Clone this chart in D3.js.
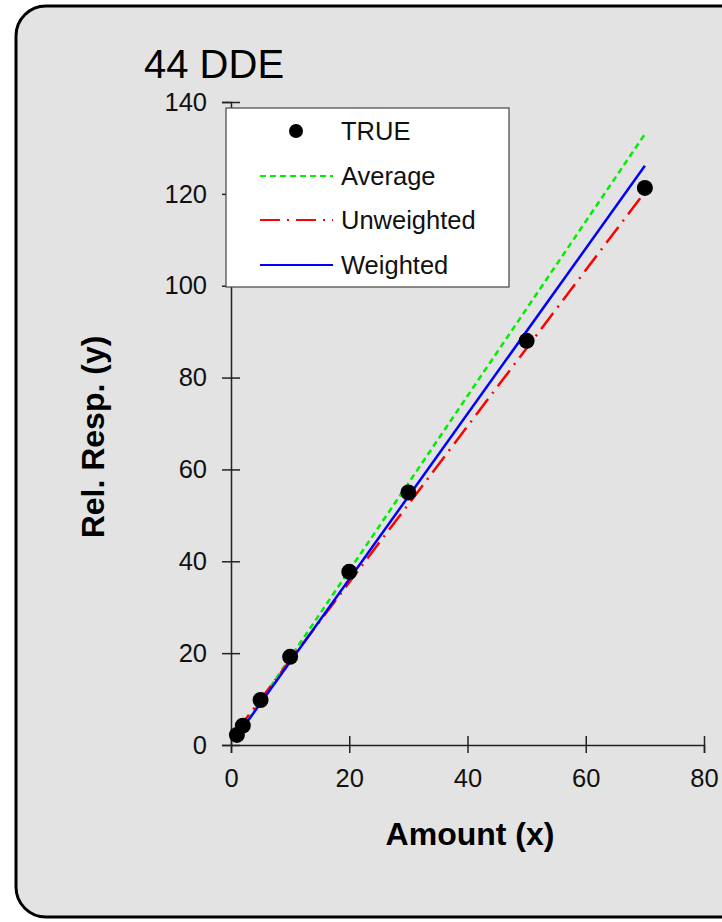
<!DOCTYPE html>
<html><head><meta charset="utf-8">
<script src="https://cdn.jsdelivr.net/npm/d3@7"></script>
<style>body{margin:0;background:#fff;} svg{display:block;}</style>
</head><body>
<script>
const title = "44 DDE";
const xTicks = [0, 20, 40, 60, 80];
const yTicks = [0, 20, 40, 60, 80, 100, 120, 140];
const amount = [1, 2, 5, 10, 20, 30, 50, 70];
const relResp = [2.2, 4.2, 9.8, 19.2, 37.7, 55, 88, 121.3];
const lineX = [1, 70];
const averageY = [1.9, 133];
const unweightedY = [3.1, 120.4];
const weightedY = [1.9, 126.1];
const legendLabels = ["TRUE", "Average", "Unweighted", "Weighted"];

const W = 722, H = 922;
const svg = d3.select("body").append("svg").attr("width", W).attr("height", H);
const font = "'Liberation Sans', Arial, sans-serif";

svg.append("rect").attr("x", 16).attr("y", 6).attr("width", 740).attr("height", 911)
  .attr("rx", 30).attr("ry", 30).attr("fill", "#e3e3e3").attr("stroke", "#000").attr("stroke-width", 3);

const x = d3.scaleLinear().domain([0, 80]).range([231, 704]);
const y = d3.scaleLinear().domain([0, 140]).range([745, 102]);

// axes
const gx = svg.append("g").attr("transform", `translate(0,${y(0)})`)
  .call(d3.axisBottom(x).tickValues(xTicks).tickSizeOuter(0).tickSize(8).tickPadding(16));
gx.selectAll(".tick line").attr("y1", -9).attr("y2", 8);
const gy = svg.append("g").attr("transform", `translate(${x(0)},0)`)
  .call(d3.axisLeft(y).tickValues(yTicks).tickSizeOuter(0).tickSize(9).tickPadding(15));
gy.selectAll(".tick line").attr("x1", -9).attr("x2", 9);
[gx, gy].forEach(g => {
  g.select(".domain").attr("stroke", "#222").attr("stroke-width", 1.5);
  g.selectAll(".tick line").attr("stroke", "#222").attr("stroke-width", 1.5);
  g.selectAll(".tick text").attr("font-family", font).attr("font-size", 25.5).attr("fill", "#111");
});

// lines
const lineGen = d3.line().x(d => x(d[0])).y(d => y(d[1]));
const series = [
  {vals: averageY, color: "#00ee00", dash: "6,4"},
  {vals: unweightedY, color: "#ff0000", dash: "20,7,2,7"},
  {vals: weightedY, color: "#0000ff", dash: null}
];
series.forEach(s => {
  svg.append("path").datum(lineX.map((v, i) => [v, s.vals[i]]))
    .attr("d", lineGen).attr("fill", "none").attr("stroke", s.color)
    .attr("stroke-width", 2.5).attr("stroke-dasharray", s.dash);
});

// points
svg.append("g").selectAll("circle").data(amount.map((v, i) => [v, relResp[i]])).join("circle")
  .attr("cx", d => x(d[0])).attr("cy", d => y(d[1])).attr("r", 8).attr("fill", "#000");

// title
svg.append("text").attr("x", 144).attr("y", 78).attr("font-family", font)
  .attr("font-size", 40).attr("fill", "#000").text(title);

// axis titles
svg.append("text").attr("x", 470).attr("y", 845).attr("text-anchor", "middle")
  .attr("font-family", font).attr("font-weight", "bold").attr("font-size", 32).text("Amount (x)");
svg.append("text").attr("transform", "translate(104,437) rotate(-90)").attr("text-anchor", "middle")
  .attr("font-family", font).attr("font-weight", "bold").attr("font-size", 32).text("Rel. Resp. (y)");

// legend
const lg = svg.append("g");
lg.append("rect").attr("x", 226).attr("y", 108).attr("width", 283).attr("height", 179)
  .attr("fill", "#fff").attr("stroke", "#444").attr("stroke-width", 1.2);
const rowY = [131, 176, 220, 265];
lg.append("circle").attr("cx", 296).attr("cy", rowY[0]).attr("r", 7).attr("fill", "#000");
series.forEach((s, i) => {
  lg.append("line").attr("x1", 260).attr("x2", 333).attr("y1", rowY[i + 1]).attr("y2", rowY[i + 1])
    .attr("stroke", s.color).attr("stroke-width", 2).attr("stroke-dasharray", s.dash);
});
legendLabels.forEach((t, i) => {
  lg.append("text").attr("x", 341).attr("y", rowY[i]).attr("dy", "0.36em")
    .attr("font-family", font).attr("font-size", 25.5).attr("fill", "#111").text(t);
});
</script>
</body></html>
